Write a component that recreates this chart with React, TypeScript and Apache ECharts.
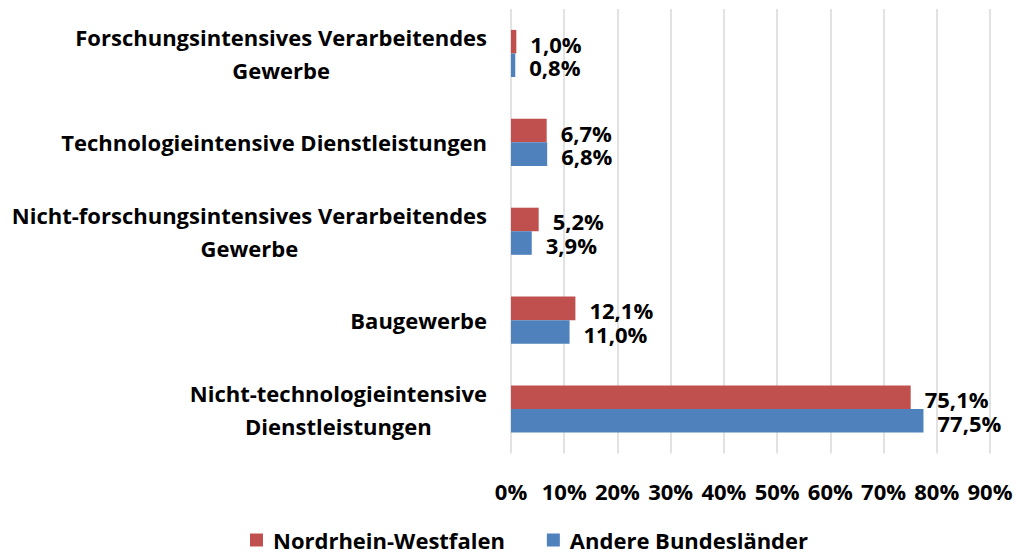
import React, { useEffect, useRef } from "react";
import * as echarts from "echarts";

const categories = [
  "Forschungsintensives Verarbeitendes\nGewerbe",
  "Technologieintensive Dienstleistungen",
  "Nicht-forschungsintensives Verarbeitendes\nGewerbe",
  "Baugewerbe",
  "Nicht-technologieintensive\nDienstleistungen",
];
const nrwValues = [1.0, 6.7, 5.2, 12.1, 75.1];
const andereValues = [0.8, 6.8, 3.9, 11.0, 77.5];
const seriesNames = ["Nordrhein-Westfalen", "Andere Bundesländer"];
const xTicks = { min: 0, max: 90, interval: 10 };

const FONT = "Open Sans";
const FS = 22;

export default function App() {
  const ref = useRef<HTMLDivElement>(null);
  useEffect(() => {
    if (!ref.current) return;
    const chart = echarts.init(ref.current, undefined, { renderer: "svg" });
    const labelCfg = {
      show: true,
      position: "right",
      distance: 14,
      offset: [0, 2],
      color: "#000",
      fontFamily: FONT,
      fontWeight: "bold",
      fontSize: FS,
      lineHeight: 22,
      formatter: (p: any) => p.value.toFixed(1).replace(".", ",") + "%",
    };
    chart.setOption({
      animation: false,
      textStyle: { fontFamily: FONT },
      grid: { left: 511, right: 43, top: 9, bottom: 103.5, containLabel: false },
      legend: {
        top: 524,
        left: 245,
        itemGap: 42,
        itemWidth: 13,
        itemHeight: 13,
        icon: "rect",
        textStyle: {
          fontFamily: FONT,
          fontWeight: "bold",
          fontSize: FS,
          lineHeight: 22,
          padding: [0, 0, 0, 5],
          color: "#000",
        },
        data: seriesNames,
      },
      xAxis: {
        type: "value",
        min: xTicks.min,
        max: xTicks.max,
        interval: xTicks.interval,
        axisLine: { show: false },
        axisTick: { show: false },
        splitLine: { show: true, lineStyle: { color: "#d9d9d9", width: 1.5 } },
        axisLabel: {
          margin: 26,
          color: "#000",
          fontFamily: FONT,
          fontWeight: "bold",
          fontSize: FS,
          formatter: (v: number) => v + "%",
        },
      },
      yAxis: {
        type: "category",
        inverse: true,
        data: categories,
        axisLine: { show: false },
        axisTick: { show: false },
        axisLabel: {
          margin: 24,
          align: "right",
          lineHeight: 33,
          formatter: (v: string) =>
            v
              .split("\n")
              .map((l) => "{c|" + l + "}")
              .join("\n"),
          rich: {
            c: {
              align: "center",
              color: "#000",
              fontFamily: FONT,
              fontWeight: "bold",
              fontSize: FS,
              lineHeight: 33,
            },
          },
        },
      },
      series: [
        {
          name: seriesNames[0],
          type: "bar",
          data: nrwValues,
          barGap: "0%",
          barCategoryGap: "47%",
          itemStyle: { color: "#C0504D" },
          label: labelCfg,
        },
        {
          name: seriesNames[1],
          type: "bar",
          data: andereValues,
          barGap: "0%",
          barCategoryGap: "47%",
          itemStyle: { color: "#4F81BD" },
          label: labelCfg,
        },
      ],
    });
    return () => chart.dispose();
  }, []);
  return <div ref={ref} style={{ width: 1033, height: 557, margin: -8 }} />;
}
